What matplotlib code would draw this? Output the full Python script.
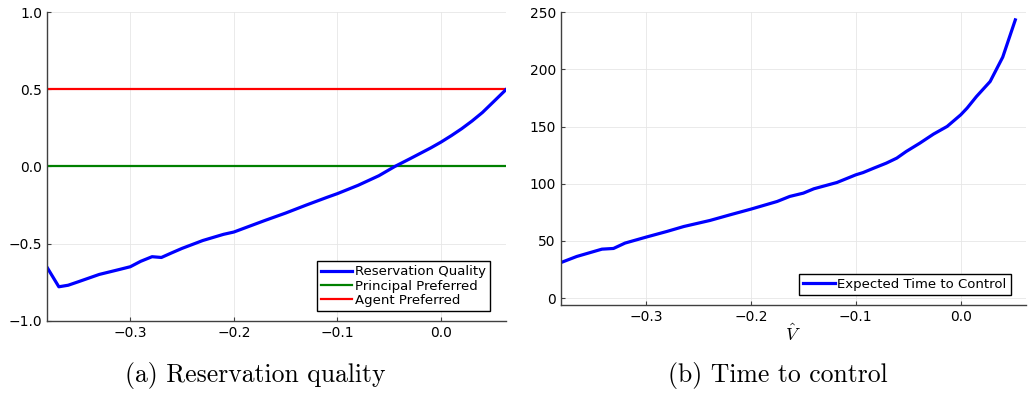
import matplotlib.pyplot as plt
import numpy as np

# (a) reservation quality
v_a = [-0.380, -0.369, -0.36, -0.35, -0.33, -0.31, -0.30, -0.29, -0.279, -0.270,
       -0.26, -0.25, -0.23, -0.21, -0.20, -0.19, -0.17, -0.15, -0.13, -0.11,
       -0.10, -0.08, -0.06, -0.0446, -0.03, -0.01, 0.0, 0.01, 0.02, 0.03,
       0.04, 0.05, 0.063]
quality = [-0.658, -0.78, -0.77, -0.747, -0.70, -0.667, -0.65, -0.615, -0.585, -0.59,
           -0.56, -0.531, -0.48, -0.44, -0.425, -0.40, -0.35, -0.302, -0.25, -0.20,
           -0.176, -0.122, -0.06, 0.0, 0.05, 0.12, 0.158, 0.20, 0.245, 0.295,
           0.35, 0.415, 0.5]
principal = 0.0
agent = 0.5

# (b) expected time to control
v_b = [-0.381, -0.366, -0.342, -0.331, -0.320, -0.300, -0.280, -0.264, -0.239, -0.220,
       -0.200, -0.175, -0.163, -0.150, -0.140, -0.118, -0.100, -0.093, -0.083, -0.071,
       -0.061, -0.052, -0.039, -0.026, -0.013, 0.0, 0.006, 0.015, 0.028, 0.040, 0.052]
ttc = [31.1, 36.4, 42.8, 43.4, 48.1, 53.3, 58.3, 62.6, 67.9, 72.8,
       77.8, 84.5, 88.9, 91.8, 95.6, 101.1, 107.8, 109.8, 113.6, 118.0,
       122.4, 128.2, 135.5, 143.4, 150.1, 160.3, 166.1, 176.3, 189.4, 210.7, 243.3]

plt.rcParams['mathtext.fontset'] = 'cm'

fig = plt.figure(figsize=(10.29, 3.94), dpi=100)
ax1 = fig.add_axes([0.0457, 0.186, 0.446, 0.783])
ax2 = fig.add_axes([0.5449, 0.226, 0.4522, 0.743])

def style(ax):
    for s in ['top', 'right']:
        ax.spines[s].set_visible(False)
    for s in ['left', 'bottom']:
        ax.spines[s].set_color('#404040')
        ax.spines[s].set_linewidth(1.0)
    ax.grid(True, color='#e6e6e6', linewidth=0.6)
    ax.set_axisbelow(True)
    ax.tick_params(direction='in', length=3, width=0.8, color='#404040', labelsize=10)

xs = np.array(v_a)
ax1.plot(xs, np.full_like(xs, principal), color='green', lw=1.6, label='Principal Preferred')
ax1.plot(xs, np.full_like(xs, agent), color='red', lw=1.6, label='Agent Preferred')
ax1.plot(v_a, quality, color='blue', lw=2.3, label='Reservation Quality')
ax1.set_xlim(-0.3804, 0.0627)
ax1.set_ylim(-1, 1)
ax1.set_xticks([-0.3, -0.2, -0.1, 0.0])
ax1.set_yticks([-1.0, -0.5, 0.0, 0.5, 1.0])
style(ax1)
h, l = ax1.get_legend_handles_labels()
order = [2, 0, 1]
leg = ax1.legend([h[i] for i in order], [l[i] for i in order], loc='lower right',
                 bbox_to_anchor=(0.965, 0.032), borderaxespad=0, fontsize=9.5,
                 fancybox=False, framealpha=1, edgecolor='black',
                 handlelength=2.4, handletextpad=0.2, labelspacing=0.1,
                 borderpad=0.3)
leg.get_frame().set_linewidth(1.0)

ax2.plot(v_b, ttc, color='blue', lw=2.3, label='Expected Time to Control')
ax2.set_xlim(-0.3813, 0.0622)
ax2.set_ylim(-6, 250)
ax2.set_xticks([-0.3, -0.2, -0.1, 0.0])
ax2.set_yticks([0, 50, 100, 150, 200, 250])
style(ax2)
ax2.set_xlabel(r'$\hat{V}$', fontsize=13, labelpad=0)
leg2 = ax2.legend(loc='lower right', bbox_to_anchor=(0.967, 0.034), borderaxespad=0,
                  fontsize=9.5, fancybox=False, framealpha=1, edgecolor='black',
                  handlelength=2.4, handletextpad=0.2, borderpad=0.3)
leg2.get_frame().set_linewidth(1.0)

fig.text(0.248, 0.046, '(a) Reservation quality', ha='center', va='center',
         fontsize=18.5, family='cmr10')
fig.text(0.756, 0.046, '(b) Time to control', ha='center', va='center',
         fontsize=18.5, family='cmr10')

fig.savefig('out.png', dpi=100)
